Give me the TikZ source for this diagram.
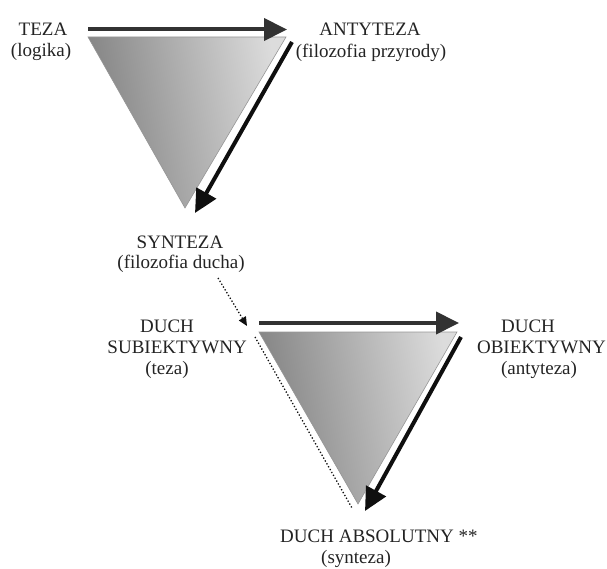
\documentclass[tikz,border=0pt]{standalone}
\usepackage{fontspec}
\setmainfont{Liberation Serif}
\usetikzlibrary{arrows.meta}
\definecolor{txt}{RGB}{35,35,35}
\definecolor{arrA}{RGB}{50,50,50}
\definecolor{arrB}{RGB}{15,15,15}
\definecolor{triDark}{RGB}{128,128,128}
\definecolor{triLight}{RGB}{220,220,220}
\definecolor{triEdge}{RGB}{150,150,150}
\begin{document}
\begin{tikzpicture}[x=1pt,y=-1pt,
  lbl/.style={font=\fontsize{19}{21}\selectfont, text=txt, inner sep=0pt, anchor=base},
  tri/.style={left color=triDark, right color=triLight, shading angle=100, draw=triEdge, line width=0.6pt},
  bigarrow/.style={line width=4pt, -{Triangle[length=23pt,width=22pt]}},
  dotarrow/.style={dotted, line width=1.3pt, -{Triangle[length=9pt,width=8pt]}},
  dotline/.style={dotted, line width=1.3pt}]
\useasboundingbox (0,0) rectangle (607,569);

% first triangle
\coordinate (t1a) at (88,37);
\coordinate (t1b) at (286,37);
\coordinate (t1c) at (185,208);
\shade[tri] (t1a) -- (t1b) -- (t1c) -- cycle;
\coordinate (a1s) at (88,29.5);
\coordinate (a1e) at (287,29.5);
\draw[bigarrow, arrA] (a1s) -- (a1e);
\coordinate (a2s) at (292,42);
\coordinate (a2e) at (195,213);
\draw[bigarrow, arrB] (a2s) -- (a2e);

% second triangle
\coordinate (t2a) at (259,332);
\coordinate (t2b) at (457,332);
\coordinate (t2c) at (358,504);
\shade[tri] (t2a) -- (t2b) -- (t2c) -- cycle;
\coordinate (b1s) at (259,323);
\coordinate (b1e) at (459,323);
\draw[bigarrow, arrA] (b1s) -- (b1e);
\coordinate (b2s) at (461,337);
\coordinate (b2e) at (365,511);
\draw[bigarrow, arrB] (b2s) -- (b2e);
\coordinate (d1s) at (255,337);
\coordinate (d1e) at (352,508);
\draw[dotline, arrB] (d1s) -- (d1e);

% labels
\node[lbl] (teza) at (43,36) {TEZA};
\node[lbl] (logika) at (41,57) {(logika)};
\node[lbl] (anty) at (370,36) {ANTYTEZA};
\node[lbl] (przyr) at (371,58) {(filozofia przyrody)};
\node[lbl] (synt) at (180,248) {SYNTEZA};
\node[lbl] (ducha) at (181,269) {(filozofia ducha)};
\node[lbl] (dl1) at (167,332) {DUCH};
\node[lbl, anchor=base east] (dl2) at (247,353) {SUBIEKTYWNY};
\node[lbl] (dl3) at (167,374) {(teza)};
\node[lbl] (dr1) at (528,332) {DUCH};
\node[lbl, anchor=base east] (dr2) at (606,353) {OBIEKTYWNY};
\node[lbl] (dr3) at (539,374) {(antyteza)};
\node[lbl, anchor=base west] (abs1) at (280,542) {DUCH ABSOLUTNY **};
\node[lbl] (abs2) at (356,563) {(synteza)};

% dotted connector from synthesis to second triangle
\coordinate (c1s) at (218,278);
\coordinate (c1e) at (247,326);
\draw[dotarrow, arrB] (c1s) -- (c1e);
\end{tikzpicture}
\end{document}
